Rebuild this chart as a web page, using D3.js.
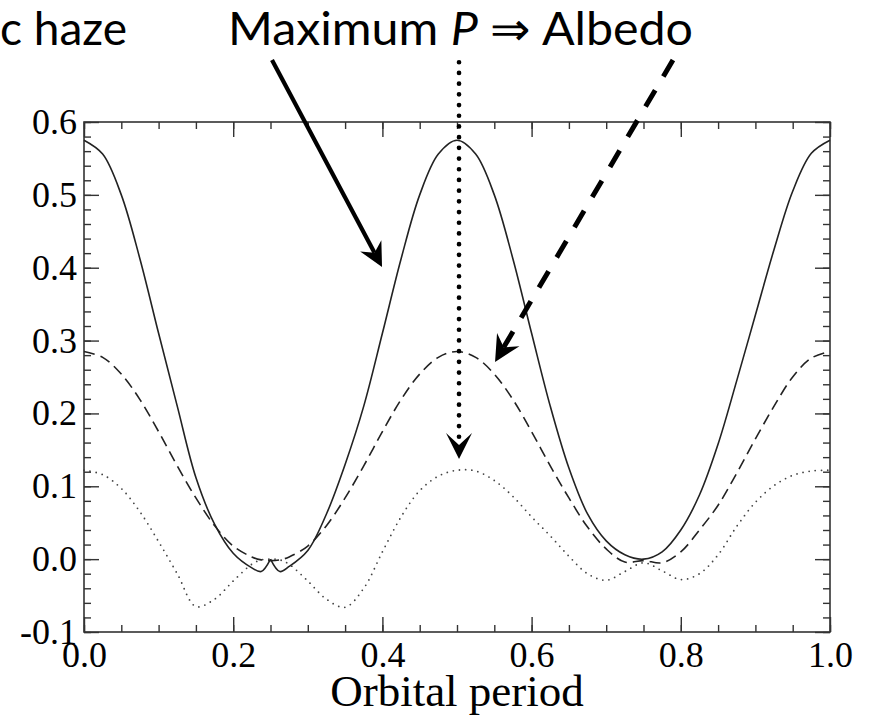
<!DOCTYPE html>
<html>
<head>
<meta charset="utf-8">
<script src="https://cdn.jsdelivr.net/npm/d3@7"></script>
<style>
  body { margin: 0; background: #fff; }
  svg { display: block; }
</style>
</head>
<body>
<div id="chart"></div>
<script>
// orbital phase samples (extra points around the cusp at 0.25)
const phase = [0, 0.025, 0.05, 0.075, 0.1, 0.125, 0.15, 0.175, 0.2, 0.225, 0.2375, 0.25, 0.2625,
  0.275, 0.3, 0.325, 0.35, 0.375, 0.4, 0.425, 0.45, 0.475, 0.5, 0.525, 0.55, 0.575, 0.6,
  0.625, 0.65, 0.675, 0.7, 0.725, 0.75, 0.775, 0.8, 0.825, 0.85, 0.875, 0.9, 0.925, 0.95, 0.975, 1.0];

// solid curve
const solidVals = [0.575, 0.556, 0.500, 0.412, 0.310, 0.210, 0.112, 0.048, 0.008, -0.012, -0.017, 0.000, -0.017,
  -0.010, 0.012, 0.062, 0.130, 0.210, 0.310, 0.412, 0.500, 0.556, 0.575, 0.556, 0.500, 0.412, 0.310,
  0.210, 0.125, 0.062, 0.025, 0.006, 0.000, 0.010, 0.040, 0.088, 0.158, 0.245, 0.335, 0.425, 0.505, 0.557, 0.575];

// dashed curve
const dashedVals = [0.285, 0.277, 0.254, 0.219, 0.175, 0.128, 0.084, 0.046, 0.018, 0.003, -0.001, -0.002, -0.001,
  0.003, 0.018, 0.046, 0.084, 0.128, 0.175, 0.219, 0.254, 0.277, 0.285, 0.277, 0.254, 0.219, 0.175,
  0.128, 0.084, 0.044, 0.014, -0.004, -0.002, -0.005, 0.010, 0.040, 0.074, 0.118, 0.165, 0.210, 0.250, 0.276, 0.285];

// dotted curve
const dottedVals = [0.122, 0.116, 0.097, 0.065, 0.024, -0.020, -0.065, -0.055, -0.030, -0.007, -0.001, 0.000, -0.001,
  -0.007, -0.030, -0.055, -0.066, -0.040, 0.010, 0.058, 0.094, 0.114, 0.122, 0.121, 0.108, 0.086, 0.058,
  0.032, 0.004, -0.020, -0.029, -0.017, -0.005, -0.016, -0.028, -0.020, 0.006, 0.045, 0.078, 0.101, 0.115, 0.121, 0.122];

const xTicks = [0, 0.2, 0.4, 0.6, 0.8, 1.0];
const yTicks = [-0.1, 0, 0.1, 0.2, 0.3, 0.4, 0.5, 0.6];

const W = 872, H = 719;
const margin = { top: 122, right: 42, bottom: 87, left: 84 };
const width = W - margin.left - margin.right;
const height = H - margin.top - margin.bottom;

const svg = d3.select("#chart").append("svg")
  .attr("width", W)
  .attr("height", H);

const g = svg.append("g")
  .attr("transform", `translate(${margin.left},${margin.top})`);

const x = d3.scaleLinear().domain([0, 1]).range([0, width]);
const y = d3.scaleLinear().domain([-0.1, 0.6]).range([height, 0]);

const serif = '"Liberation Serif", "Times New Roman", serif';
const fmt = d => d.toFixed(1);

const xMinor = d3.range(0, 1.0001, 0.05);
const yMinor = d3.range(-0.1, 0.6001, 0.02);

function styleAxis(sel) {
  sel.select(".domain").remove();
  sel.selectAll(".tick line").attr("stroke", "#333").attr("stroke-width", 1.4);
  sel.selectAll(".tick text")
    .attr("fill", "#000")
    .style("font-family", serif)
    .style("font-size", "36px");
}

// bottom
g.append("g").attr("transform", `translate(0,${height})`)
  .call(d3.axisBottom(x).tickValues(xTicks).tickSize(-15).tickPadding(9).tickFormat(fmt))
  .call(styleAxis);
g.append("g").attr("transform", `translate(0,${height})`)
  .call(d3.axisBottom(x).tickValues(xMinor).tickSize(-7).tickFormat(""))
  .call(styleAxis);
// top
g.append("g")
  .call(d3.axisTop(x).tickValues(xTicks).tickSize(-15).tickFormat(""))
  .call(styleAxis);
g.append("g")
  .call(d3.axisTop(x).tickValues(xMinor).tickSize(-7).tickFormat(""))
  .call(styleAxis);
// left
g.append("g")
  .call(d3.axisLeft(y).tickValues(yTicks).tickSize(-15).tickPadding(7).tickFormat(fmt))
  .call(styleAxis);
g.append("g")
  .call(d3.axisLeft(y).tickValues(yMinor).tickSize(-7).tickFormat(""))
  .call(styleAxis);
// right
g.append("g").attr("transform", `translate(${width},0)`)
  .call(d3.axisRight(y).tickValues(yTicks).tickSize(-15).tickFormat(""))
  .call(styleAxis);
g.append("g").attr("transform", `translate(${width},0)`)
  .call(d3.axisRight(y).tickValues(yMinor).tickSize(-7).tickFormat(""))
  .call(styleAxis);

// frame
g.append("rect")
  .attr("width", width)
  .attr("height", height)
  .attr("fill", "none")
  .attr("stroke", "#333")
  .attr("stroke-width", 1.6);

// axis title
svg.append("text")
  .attr("x", margin.left + width / 2)
  .attr("y", 706)
  .attr("text-anchor", "middle")
  .style("font-family", serif)
  .style("font-size", "45px")
  .text("Orbital period");

// curves
const line = d3.line()
  .x(d => x(d[0]))
  .y(d => y(d[1]))
  .curve(d3.curveCatmullRom.alpha(0.5));

const solid = phase.map((p, i) => [p, solidVals[i]]);
const dashed = phase.map((p, i) => [p, dashedVals[i]]);
const dotted = phase.map((p, i) => [p, dottedVals[i]]);

// the solid curve has a cusp at 0.25, so draw it in two pieces
const cusp = phase.indexOf(0.25);
[solid.slice(0, cusp + 1), solid.slice(cusp)].forEach(part => {
  g.append("path")
    .attr("d", line(part))
    .attr("fill", "none")
    .attr("stroke", "#222")
    .attr("stroke-width", 1.6);
});

g.append("path")
  .attr("d", line(dashed))
  .attr("fill", "none")
  .attr("stroke", "#222")
  .attr("stroke-width", 1.6)
  .attr("stroke-dasharray", "11,6");

g.append("path")
  .attr("d", line(dotted))
  .attr("fill", "none")
  .attr("stroke", "#444")
  .attr("stroke-width", 1.8)
  .attr("stroke-linecap", "round")
  .attr("stroke-dasharray", "0,6.2");

// annotations
const sans = 'Lato, "Noto Sans", sans-serif';

svg.append("text")
  .attr("x", 0)
  .attr("y", 45)
  .attr("textLength", 127)
  .attr("lengthAdjust", "spacingAndGlyphs")
  .style("font-family", sans)
  .style("font-size", "46px")
  .text("c haze");

const title = svg.append("text")
  .attr("x", 228)
  .attr("y", 45)
  .attr("textLength", 465)
  .attr("lengthAdjust", "spacingAndGlyphs")
  .style("font-family", sans)
  .style("font-size", "46px");
title.append("tspan").text("Maximum ");
title.append("tspan").style("font-style", "italic").text("P");
title.append("tspan").text(" \u21D2 Albedo");

// arrow head polygon with a notched back
function head(tip, from, len, half, notch) {
  const dx = tip[0] - from[0], dy = tip[1] - from[1];
  const d = Math.hypot(dx, dy);
  const ux = dx / d, uy = dy / d;
  const px = -uy, py = ux;
  const bx = tip[0] - ux * len, by = tip[1] - uy * len;
  const pts = [
    tip,
    [bx + px * half, by + py * half],
    [tip[0] - ux * (len - notch), tip[1] - uy * (len - notch)],
    [bx - px * half, by - py * half]
  ];
  return { path: "M" + pts.map(p => p.join(",")).join("L") + "Z", neck: pts[2] };
}

function arrow(from, tip, opts) {
  const h = head(tip, from, opts.len, opts.half, opts.notch);
  g.append("line")
    .attr("x1", from[0]).attr("y1", from[1])
    .attr("x2", h.neck[0]).attr("y2", h.neck[1])
    .attr("stroke", "#000")
    .attr("stroke-width", opts.width)
    .attr("stroke-linecap", opts.cap || "butt")
    .attr("stroke-dasharray", opts.dash || null);
  g.append("path").attr("d", h.path).attr("fill", "#000");
}

// solid arrow to the solid curve
arrow([x(0.252), y(0.685)], [x(0.3995), y(0.401)], { width: 4.2, len: 24, half: 12, notch: 8 });
// dashed arrow to the dashed curve
arrow([x(0.7895), y(0.685)], [x(0.551), y(0.2706)], { width: 5, len: 26, half: 13, notch: 9, dash: "19,16" });
// dotted vertical arrow to the dotted curve
arrow([x(0.5027), y(0.682)], [x(0.5027), y(0.1375)], { width: 4.7, len: 26, half: 13, notch: 12, dash: "0,10.7", cap: "round" });
</script>
</body>
</html>
